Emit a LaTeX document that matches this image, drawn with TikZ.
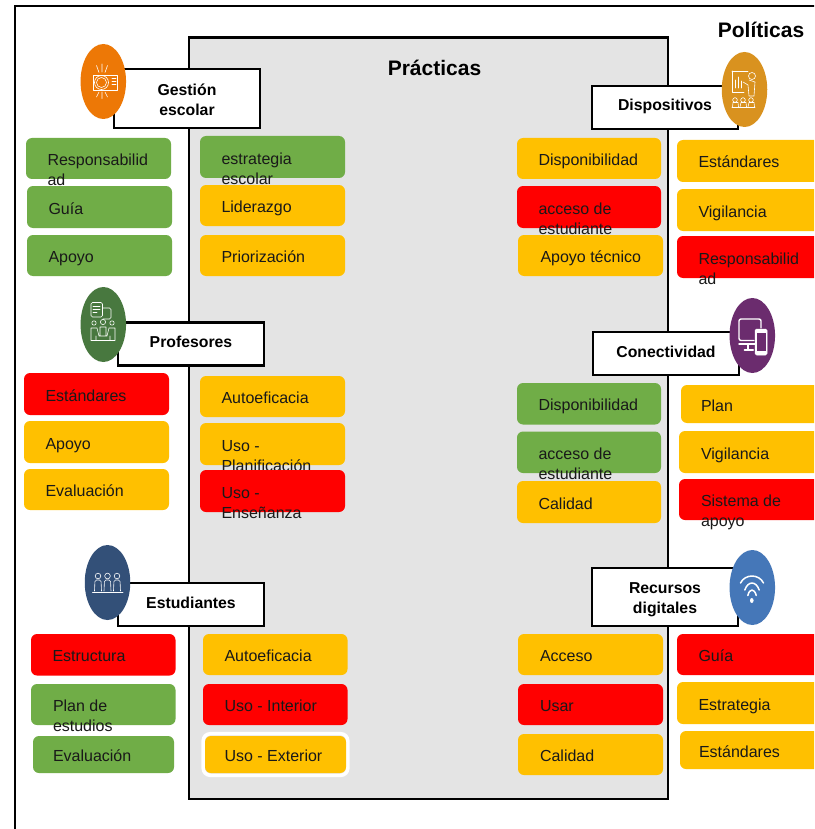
\documentclass[tikz,border=0pt]{standalone}
\usepackage{fontspec}
\setmainfont{Liberation Sans}
\usetikzlibrary{shapes.geometric}

\definecolor{chipgreen}{HTML}{70AD47}
\definecolor{chipyellow}{HTML}{FFC000}
\definecolor{chipred}{HTML}{FF0000}
\definecolor{panelgrey}{HTML}{E4E4E4}
\definecolor{dotorange}{HTML}{ED7806}
\definecolor{dotgold}{HTML}{D9921F}
\definecolor{dotgreen}{HTML}{48783F}
\definecolor{dotpurple}{HTML}{6B2C6E}
\definecolor{dotnavy}{HTML}{335078}
\definecolor{dotblue}{HTML}{4577B8}

% [text inset], name, colour, left, top, width, height, text
\newcommand{\chip}[8][21.5]{%
  \node[chip, fill=#3, minimum width=#6pt, minimum height=#7pt] (#2) at (#4,#5) {};
  \node[word] (#2txt) at ([shift={(#1,-7)}]#2.west) {\strut #8};
}

\begin{document}
\begin{tikzpicture}[x=1pt, y=-1pt]

\tikzstyle{chip}=[rectangle, rounded corners=6pt, anchor=north west, inner sep=0pt, outer sep=0pt]
\tikzstyle{word}=[anchor=north west, inner sep=0pt, outer sep=0pt, align=left, text=black!90,
                  font=\fontsize{16}{20}\selectfont]
\tikzstyle{title}=[rectangle, draw=black, fill=white, line width=2.4pt, inner sep=0pt, align=center,
                   font=\fontsize{15.8}{20}\selectfont\bfseries]
\tikzstyle{oneline}=[text height=12pt, text depth=5pt]
\tikzstyle{head}=[inner sep=0pt, font=\fontsize{21}{25}\selectfont\bfseries]
\tikzstyle{dot}=[ellipse, inner sep=0pt, minimum width=45.5pt, minimum height=75pt]
\tikzstyle{glyph}=[draw=white, line width=.6pt, line cap=round, line join=round]

\path[use as bounding box, clip] (0,0) rectangle (814,829);

\draw[line width=2pt, fill=white] (14.5,6.5) rectangle (900,900);
\draw[line width=2.4pt, fill=panelgrey] (189,37.5) rectangle (668,799);

\node[head] (politicas) at (761,30) {Políticas};
\node[head] (practicas) at (434.5,68) {Prácticas};

% gestion escolar
\chip{gresp}{chipgreen}{26}{138}{145}{41}{Responsabilid\\ad}
\chip{gguia}{chipgreen}{27}{186}{145}{42}{Guía}
\chip{gapoyo}{chipgreen}{27}{235}{145}{41}{Apoyo}
\chip{gestr}{chipgreen}{200}{136}{145}{42}{estrategia\\escolar}
\chip{glid}{chipyellow}{200}{185}{145}{41}{Liderazgo}
\chip{gprio}{chipyellow}{200}{235}{145}{41}{Priorización}
\node[title, minimum width=146pt, minimum height=59pt] (gestion) at (187,98.5) {\strut Gestión\\escolar};
\node[dot, fill=dotorange] (gdot) at (103.3,81.5) {};
\draw[glyph] (93.5,75) rectangle (117,90);
\draw[glyph] (101.5,82.5) circle[radius=7];
\draw[glyph] (101.5,82.5) circle[radius=5];
\draw[glyph] (112,78) -- (116,78) (112,81) -- (116,81) (112,84) -- (116,84);
\draw[glyph] (96.5,65.5) -- (99,72.5) (102,64) -- (102,72) (107.5,65.5) -- (105,72.5)
             (96.5,97) -- (99,92) (102,98.5) -- (102,92) (107.5,97) -- (105,92);

% dispositivos
\chip{ddisp}{chipyellow}{517}{138}{144}{41}{Disponibilidad}
\chip{dacc}{chipred}{517}{186}{144}{42}{acceso de\\estudiante}
\chip[22.5]{dapoyo}{chipyellow}{518}{235}{145}{41}{Apoyo técnico}
\chip{dest}{chipyellow}{677}{140}{200}{42}{Estándares}
\chip{dvig}{chipyellow}{677}{189}{200}{42}{Vigilancia}
\chip{dresp}{chipred}{677}{236}{200}{42}{Responsabilid\\ad}
\node[title, oneline, minimum width=146pt, minimum height=43pt] (dispositivos) at (665,107.5) {Dispositivos};
\node[dot, fill=dotgold] (ddot) at (744.5,89.5) {};
\draw[glyph] (732,71) -- (748,71) (732,71) -- (732,92) -- (744,92);
\draw[glyph] (735,88) -- (735,80) (738,88) -- (738,77) (741,88) -- (741,81);
\draw[glyph] (752,76) circle[radius=3.5];
\draw[glyph] (743,82) -- (748,85) -- (749,96) -- (754,96) -- (755,82) -- (749,80);
\draw[glyph] (735,100) circle[radius=2.3] (743,100) circle[radius=2.3] (751,100) circle[radius=2.3];
\draw[glyph] (732.5,107) -- (733,102.5) -- (738,102.5) -- (738.5,107)
             (740,107) -- (741,102.5) -- (746,102.5) -- (746.5,107)
             (748,107) -- (749,102.5) -- (754,102.5) -- (754.5,107) (732,107.5) -- (755,107.5);

% profesores
\chip{pest}{chipred}{24}{373}{145}{42}{Estándares}
\chip{papoyo}{chipyellow}{24}{421}{145}{42}{Apoyo}
\chip{peval}{chipyellow}{24}{469}{145}{41}{Evaluación}
\chip{pauto}{chipyellow}{200}{376}{145}{41}{Autoeficacia}
\chip{pplan}{chipyellow}{200}{423}{145}{42}{Uso -\\Planificación}
\chip{pens}{chipred}{200}{470}{145}{42}{Uso -\\Enseñanza}
\node[title, oneline, minimum width=146pt, minimum height=43pt] (profesores) at (191,344) {Profesores};
\node[dot, fill=dotgreen] (pdot) at (103.3,324.5) {};
\draw[glyph, rounded corners=1.5pt] (91,302.5) rectangle (102.5,317);
\draw[glyph] (93,306) -- (100,306) (93,309) -- (100,309) (93,312) -- (97,312);
\draw[glyph, rounded corners=1.5pt] (102.5,308) -- (111,308) -- (111,319) -- (103,319);
\draw[glyph] (94,323) circle[radius=2.2] (103,322) circle[radius=2.6] (112,323) circle[radius=2.2];
\draw[glyph] (91,340) -- (91,328) -- (97,328) -- (99,336) -- (107,336) -- (109,328) -- (115,328) -- (115,340)
             (100,336) -- (100,327) -- (106,327) -- (106,336) (91,340.5) -- (115,340.5) (96,336) -- (96,340) (110,336) -- (110,340);

% conectividad
\chip{cdisp}{chipgreen}{517}{383}{144}{41.5}{Disponibilidad}
\chip{cacc}{chipgreen}{517}{431.5}{144}{41.5}{acceso de\\estudiante}
\chip{ccal}{chipyellow}{517}{481}{144}{42}{Calidad}
\chip[20]{cplan}{chipyellow}{681}{385}{200}{38}{Plan}
\chip[22]{cvig}{chipyellow}{679}{431}{200}{42}{Vigilancia}
\chip[22]{csis}{chipred}{679}{479}{200}{41}{Sistema de\\apoyo}
\node[title, oneline, minimum width=146pt, minimum height=43pt] (conectividad) at (666,353.5) {Conectividad};
\node[dot, fill=dotpurple] (cdot) at (752.3,335.5) {};
\draw[glyph, line width=1.4pt, rounded corners=2pt] (754,340.5) -- (739,340.5) -- (739,319) -- (761,319) -- (761,328);
\draw[glyph, line width=1.4pt] (739,344) -- (755,344);
\draw[glyph, line width=2pt] (748,345) -- (748,349) (744.5,349.5) -- (753,349.5);
\draw[glyph, fill=white, line width=.5pt, rounded corners=1.5pt] (755,329) rectangle (767,355);
\fill[dotpurple] (756.5,333) rectangle (765.5,351);

% estudiantes
\chip{eestr}{chipred}{31}{634}{144.5}{41.5}{Estructura}
\chip[22]{eplan}{chipgreen}{31}{684}{144.5}{41}{Plan de\\estudios}
\chip[20]{eeval}{chipgreen}{33}{736}{141}{37}{Evaluación}
\chip{eauto}{chipyellow}{203}{634}{144.5}{41}{Autoeficacia}
\chip{eint}{chipred}{203}{684}{144.5}{41}{Uso - Interior}
\draw[white, line width=3.5pt, rounded corners=7pt] (203.2,733.7) rectangle (347.8,775.3);
\chip[19.5]{eext}{chipyellow}{205}{736}{141}{37}{Uso - Exterior}
\node[title, oneline, minimum width=146pt, minimum height=43pt] (estudiantes) at (191,604.5) {Estudiantes};
\node[dot, fill=dotnavy] (edot) at (107.5,582.5) {};
\draw[glyph] (98,576) circle[radius=2.8] (107.5,576) circle[radius=2.8] (117,576) circle[radius=2.8];
\draw[glyph, rounded corners=1.5pt] (94.5,591) -- (95,580) -- (101,580) -- (101.5,591)
                                    (104,591) -- (104.5,580) -- (110.5,580) -- (111,591)
                                    (113.5,591) -- (114,580) -- (120,580) -- (120.5,591);
\draw[glyph, line width=.9pt] (92.5,592) -- (123,592);

% recursos digitales
\chip[22]{racc}{chipyellow}{518}{634}{145}{41}{Acceso}
\chip[22]{rusar}{chipred}{518}{684}{145}{41}{Usar}
\chip[22]{rcal}{chipyellow}{518}{734}{145}{41}{Calidad}
\chip{rguia}{chipred}{677}{634}{200}{41}{Guía}
\chip{restr}{chipyellow}{677}{682}{200}{42}{Estrategia}
\chip[19]{rest}{chipyellow}{680}{731}{200}{38}{Estándares}
\node[title, minimum width=146pt, minimum height=58pt] (recursos) at (665,597) {\rule{0pt}{17pt}Recursos\\digitales};
\node[dot, fill=dotblue] (rdot) at (752.3,587.5) {};
\draw[glyph, line width=1.5pt] (740.5,583) .. controls (745,573.7) and (759,573.7) .. (763.5,583);
\draw[glyph, line width=1.5pt] (744.8,590) .. controls (748,580.7) and (756,580.7) .. (759.2,590);
\draw[glyph, line width=1.5pt] (747.8,595.5) .. controls (749.5,588.2) and (754.5,588.2) .. (756.2,595.5);
\fill[white] (751.8,600.5) ellipse[x radius=1.8, y radius=2.5];

\end{tikzpicture}
\end{document}
